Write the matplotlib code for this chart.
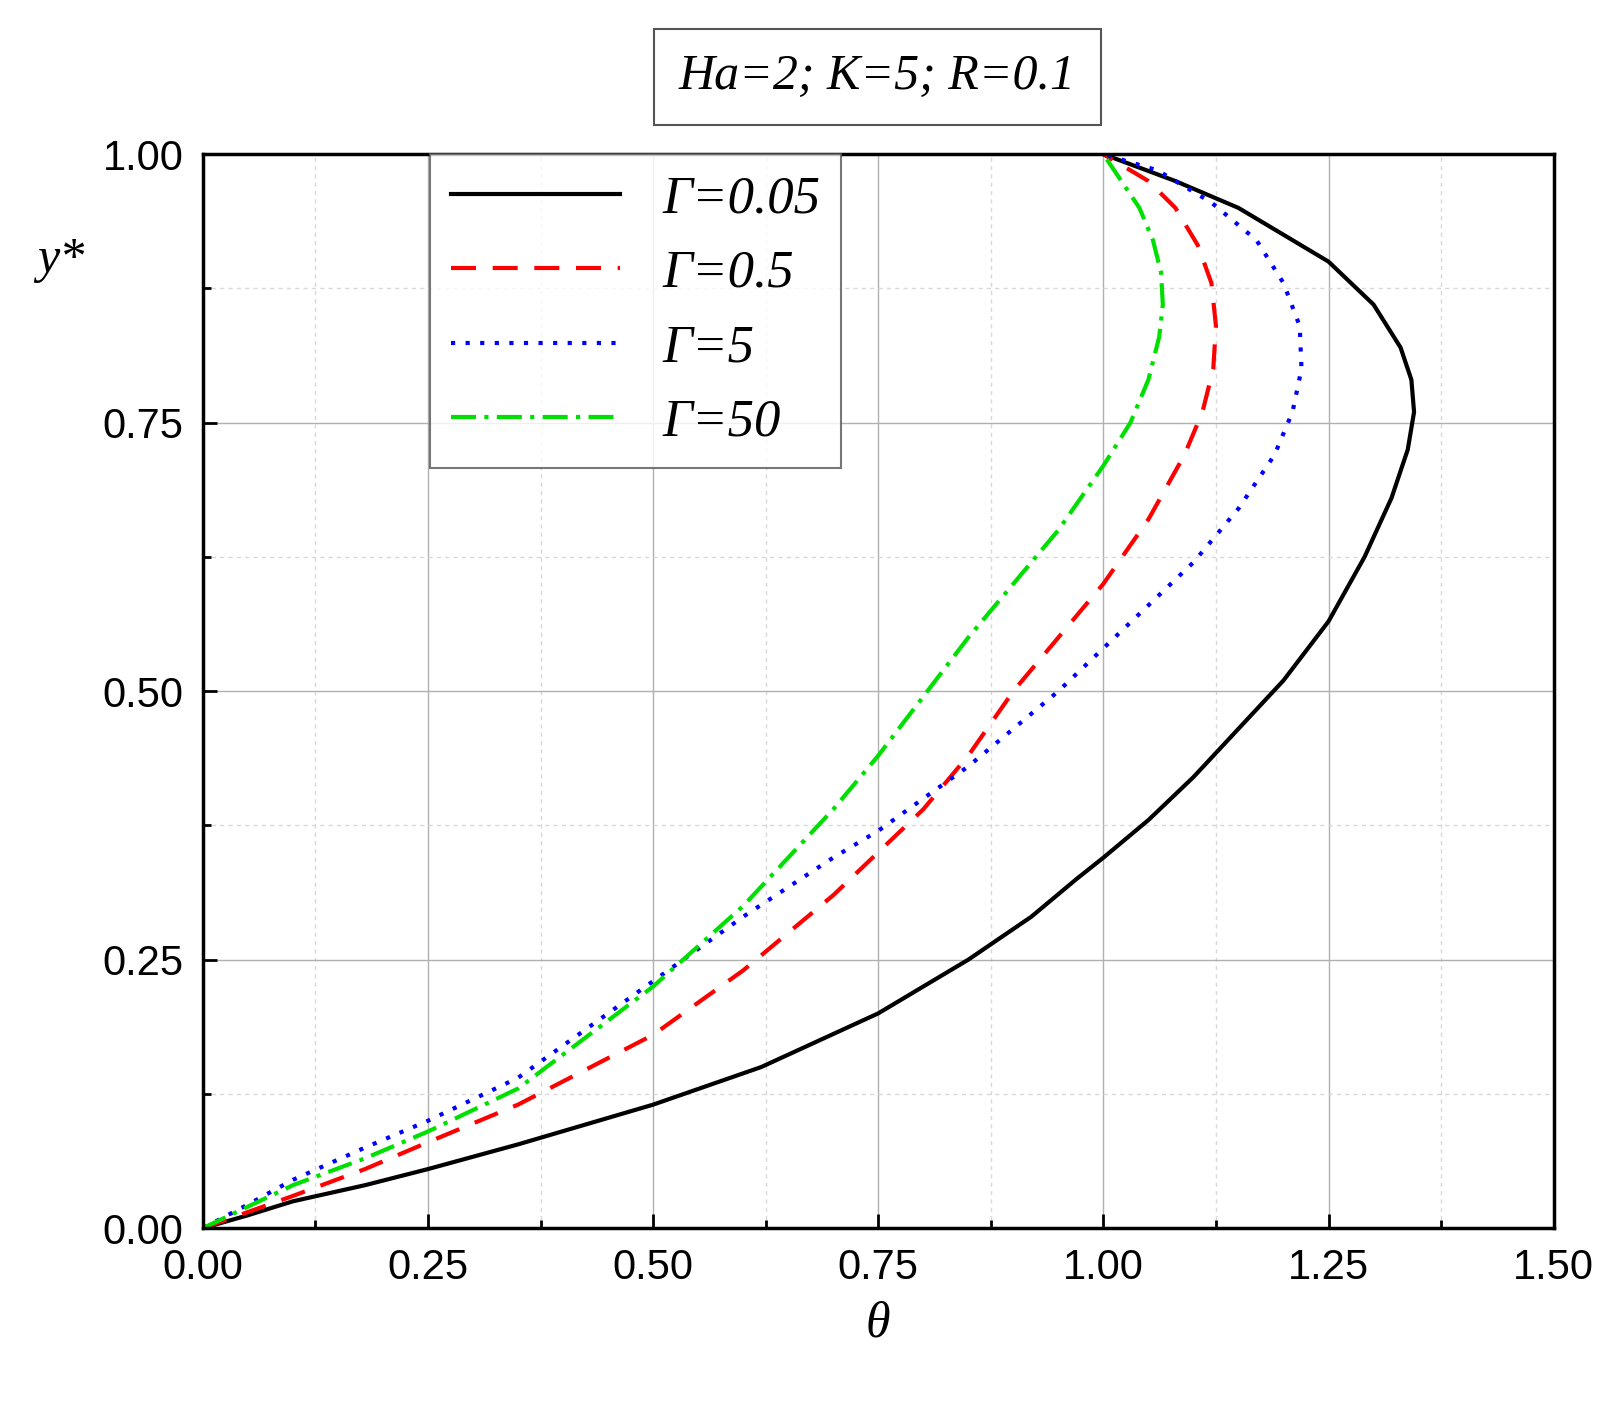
import matplotlib
matplotlib.use("Agg")
import matplotlib.pyplot as plt
from matplotlib.ticker import MultipleLocator, FormatStrFormatter

labels = ["Γ=0.05", "Γ=0.5", "Γ=5", "Γ=50"]
th1 = [0,0.05,0.1,0.18,0.25,0.35,0.5,0.62,0.75,0.85,0.92,0.97,1.0,1.05,1.1,1.15,1.2,1.25,1.29,1.32,1.338,1.345,1.342,1.33,1.3,1.25,1.2,1.15,1.08,1.0]
y1  = [0,0.012,0.025,0.04,0.055,0.078,0.115,0.15,0.2,0.25,0.29,0.325,0.345,0.38,0.42,0.465,0.51,0.565,0.625,0.68,0.725,0.76,0.79,0.82,0.86,0.9,0.925,0.95,0.975,1.0]
th2 = [0,0.05,0.1,0.18,0.25,0.35,0.5,0.6,0.7,0.75,0.8,0.85,0.9,0.95,1.0,1.05,1.09,1.11,1.122,1.125,1.12,1.105,1.08,1.05,1.0]
y2  = [0,0.015,0.03,0.055,0.08,0.115,0.18,0.24,0.31,0.35,0.39,0.44,0.5,0.55,0.6,0.66,0.72,0.76,0.8,0.84,0.88,0.915,0.95,0.975,1.0]
th3 = [0,0.05,0.1,0.18,0.25,0.35,0.5,0.6,0.7,0.75,0.85,0.95,1.0,1.05,1.1,1.15,1.19,1.21,1.22,1.218,1.2,1.17,1.12,1.06,1.0]
y3  = [0,0.022,0.045,0.075,0.1,0.14,0.23,0.29,0.345,0.37,0.43,0.5,0.54,0.58,0.62,0.67,0.72,0.76,0.8,0.84,0.88,0.92,0.955,0.985,1.0]
th4 = [0,0.05,0.1,0.18,0.25,0.35,0.5,0.6,0.7,0.75,0.85,0.95,1.0,1.03,1.05,1.062,1.066,1.064,1.055,1.04,1.02,1.0]
y4  = [0,0.02,0.04,0.065,0.09,0.13,0.225,0.3,0.39,0.44,0.55,0.65,0.71,0.75,0.79,0.83,0.86,0.89,0.92,0.95,0.975,1.0]

plt.rcParams['font.family'] = ['Liberation Sans', 'DejaVu Sans']
fig = plt.figure(figsize=(16.1, 14.02), dpi=100)
ax = fig.add_axes([0.126, 0.124, 0.839, 0.766])
ax.plot(th1, y1, color='black', lw=3, ls='-', label=labels[0])
ax.plot(th2, y2, color='red', lw=3, ls=(0, (6, 4)), label=labels[1])
ax.plot(th3, y3, color='blue', lw=3, ls=(0, (1, 2.5)), label=labels[2])
ax.plot(th4, y4, color='#00e000', lw=3, ls=(0, (6, 2, 1, 2)), label=labels[3])
ax.set_xlim(0, 1.5); ax.set_ylim(0, 1)
ax.xaxis.set_major_locator(MultipleLocator(0.25)); ax.yaxis.set_major_locator(MultipleLocator(0.25))
ax.xaxis.set_minor_locator(MultipleLocator(0.125)); ax.yaxis.set_minor_locator(MultipleLocator(0.125))
ax.xaxis.set_major_formatter(FormatStrFormatter('%.2f'))
ax.yaxis.set_major_formatter(FormatStrFormatter('%.2f'))
ax.grid(which='major', color='#b0b0b0', lw=1)
ax.grid(which='minor', color='#d8d8d8', lw=1, ls=(0, (3, 3)))
ax.tick_params(which='both', direction='in', labelsize=30, width=2, pad=14)
ax.tick_params(which='major', length=10); ax.tick_params(which='minor', length=6)
for s in ax.spines.values(): s.set_linewidth(2.5)
ax.set_xlabel("θ", fontsize=36, style='italic', family='Liberation Serif', labelpad=10)
ax.set_ylabel("y*", fontsize=36, rotation=0, style='italic', family='Liberation Serif')
ax.yaxis.set_label_coords(-0.105, 0.88)
leg = ax.legend(loc='upper left', bbox_to_anchor=(0.168, 1.0), fancybox=False, borderaxespad=0,
                edgecolor='#555555', handlelength=3.2,
                prop={'style': 'italic', 'family': 'Liberation Serif', 'size': 38})
leg.get_frame().set_linewidth(1.5)
fig.text(0.545, 0.945, "Ha=2; K=5; R=0.1", ha='center', va='center', fontsize=36, style='italic',
         family='Liberation Serif', bbox=dict(boxstyle='square,pad=0.5', fc='white', ec='#555555', lw=1.5))
fig.savefig("out.png", dpi=100)
